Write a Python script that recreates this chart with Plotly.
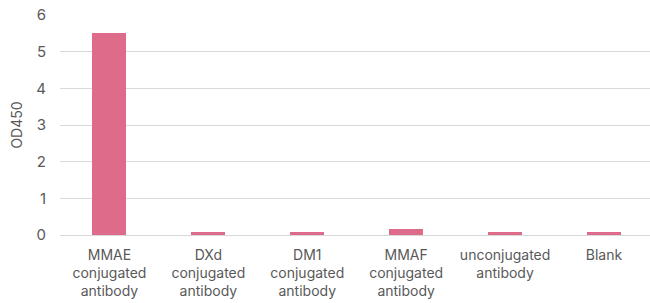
import plotly.graph_objects as go

categories = ["MMAE<br>conjugated<br>antibody", "DXd<br>conjugated<br>antibody",
              "DM1<br>conjugated<br>antibody", "MMAF<br>conjugated<br>antibody",
              "unconjugated<br>antibody", "Blank"]
od450 = [5.52, 0.08, 0.08, 0.16, 0.08, 0.08]
y_ticks = [0, 1, 2, 3, 4, 5, 6]

fig = go.Figure(go.Bar(
    x=list(range(len(categories))), y=od450,
    marker=dict(color="#DE6B8A", line=dict(width=0)),
    width=0.343,
))
fig.update_layout(
    width=650, height=303,
    margin=dict(l=59.5, r=0, t=15, b=68),
    plot_bgcolor="white", paper_bgcolor="white",
    font=dict(family="Inter", size=13, color="#595959"),
    showlegend=False,
    bargap=0,
)
fig.update_xaxes(
    tickmode="array", tickvals=list(range(len(categories))), ticktext=categories,
    range=[-0.5, 5.465], showgrid=False, zeroline=False, automargin=False,
    showline=False, ticks="", ticklabelstandoff=10,
    tickfont=dict(size=14, color="#595959"),
)
fig.update_yaxes(
    range=[0, 6], tickvals=y_ticks, showgrid=True, gridcolor="#D9D9D9", gridwidth=1,
    zeroline=True, zerolinecolor="#D9D9D9", zerolinewidth=1, automargin=False,
    ticks="", ticklabelstandoff=13,
    title=dict(text="OD450", font=dict(size=14, color="#595959"), standoff=10),
    tickfont=dict(size=15, color="#595959"),
)
fig.write_html("out.html", config={"displayModeBar": False},
               post_script="document.body.style.margin='0';document.body.style.overflow='hidden';")
